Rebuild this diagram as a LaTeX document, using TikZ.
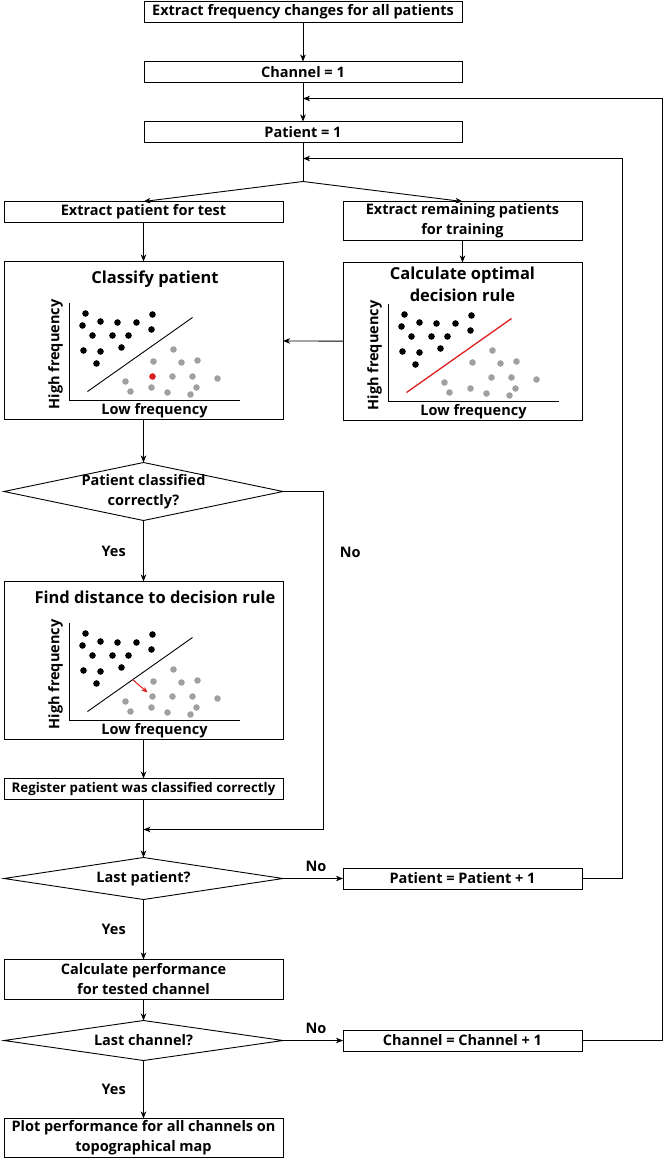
\documentclass[tikz,border=0pt]{standalone}
\usepackage{fontspec}
\setmainfont{Open Sans}
\usetikzlibrary{positioning,shapes.geometric,arrows.meta}

\definecolor{dotgray}{RGB}{160,160,160}
\definecolor{rulered}{RGB}{220,30,30}

\begin{document}
\begin{tikzpicture}[x=1pt,y=1pt,font=\bfseries\fontsize{14.5}{20}\selectfont,
  box/.style={draw,line width=0.9pt,align=center,inner sep=0pt,outer sep=0pt,minimum height=21pt},
  topbox/.style={box,minimum width=318pt},
  mainbox/.style={box,minimum width=279pt},
  sidebox/.style={box,minimum width=239pt},
  plottitle/.style={font=\bfseries\fontsize{16.5}{22}\selectfont},
  decision/.style={diamond,draw,line width=0.9pt,align=center,aspect=4,inner sep=-6pt,outer sep=0pt,minimum width=279pt},
  arr/.style={-{Stealth[length=7pt,width=5.5pt,inset=2pt]},line width=0.9pt},
  freqplot/.pic={
    \draw[line width=0.9pt] (0,98) -- (0,0) -- (170,0);
    \node[rotate=90] at (-14,46) {High frequency};
    \node at (85,-10) {Low frequency};
    \foreach \px/\py in {16/87,13/75,31/79,48/78,67/78,83/86,82/71,23/65,43/65,59/65,14/50,31/49,52/53,27/37}
      \fill (\px,\py) circle[radius=3.3pt];
    \foreach \px/\py in {104/51,84/39,112/38,128/40,56/19,103/24,123/24,148/22,61/9,82/13,98/8,121/6,127/13}
      \fill[dotgray] (\px,\py) circle[radius=3.3pt];
  }]
\useasboundingbox (0,0) rectangle (664,-1161);
\node[topbox] (extract) at (303,-12) {Extract frequency changes for all patients};
\node[topbox,below=39pt of extract] (chan1) {Channel = 1};
\node[topbox,below=39pt of chan1] (pat1) {Patient = 1};
\coordinate[below=16pt of chan1] (chanin);
\coordinate[below=16pt of pat1] (patin);
\coordinate[below=39pt of pat1] (split);
\node[mainbox,below=20pt of split,xshift=-159.5pt] (test) {Extract patient for test};
\node[sidebox,below=20pt of split,xshift=159.5pt,minimum height=39pt] (train) {Extract remaining patients\\for training};
\node[mainbox,plottitle,below=39pt of test,text height=22pt,text depth=136pt] (classify) {\hspace*{23pt}Classify patient};
\node[sidebox,plottitle,below=22pt of train,text height=39pt,text depth=119pt] (optimal) {Calculate optimal\\decision rule};
\node[decision,below=43pt of classify,minimum height=58pt] (correct) {Patient classified\\correctly?};
\node[mainbox,plottitle,below=61pt of correct,text height=22pt,text depth=136pt] (distance) {\hspace*{23pt}Find distance to decision rule};
\node[mainbox,below=39pt of distance,font=\bfseries\fontsize{13.3}{20}\selectfont] (register) {Register patient was classified correctly};
\coordinate[below=30pt of register] (merge);
\node[decision,below=58pt of register,minimum height=42pt] (lastpat) {Last patient?};
\node[sidebox,right=60pt of lastpat] (patnext) {Patient = Patient + 1};
\node[mainbox,below=60pt of lastpat,minimum height=40pt] (perf) {Calculate performance\\for tested channel};
\node[decision,below=21pt of perf,minimum height=40pt] (lastchan) {Last channel?};
\node[sidebox,right=60pt of lastchan] (channext) {Channel = Channel + 1};
\node[mainbox,below=58pt of lastchan,minimum height=39pt] (topo) {Plot performance for all channels on\\topographical map};

% scatter plots
\begin{scope}[shift={(classify.center)},shift={(-74,-60)}]
  \pic {freqplot};
  \draw[line width=0.9pt] (18,9) -- (123,83);
  \fill[rulered] (83,24) circle[radius=3.3pt];
\end{scope}
\begin{scope}[shift={(optimal.center)},shift={(-74,-60)}]
  \pic {freqplot};
  \draw[rulered,line width=1.3pt] (18,9) -- (123,83);
\end{scope}
\begin{scope}[shift={(distance.center)},shift={(-74,-60)}]
  \pic {freqplot};
  \draw[line width=0.9pt] (18,9) -- (123,83);
  \fill[dotgray] (83,24) circle[radius=3.3pt];
  \draw[rulered,-{Stealth[length=6pt,width=5pt]},line width=1pt] (63,41) -- (78,28);
\end{scope}

\draw[arr] (extract) -- (chan1);
\draw[arr] (chan1) -- (pat1);
\draw[line width=0.9pt] (pat1) -- (split);
\draw[arr] (split) -- (test.north);
\draw[arr] (split) -- (train.north);
\draw[arr] (test) -- (classify);
\draw[arr] (train) -- (optimal);
\draw[arr] (optimal) -- (classify);
\draw[arr] (classify) -- (correct);
\draw[arr] (correct) -- node[left=14pt]{Yes} (distance);
\draw[arr] (correct.east) -- ++(40,0) |- node[pos=0.09,right=13pt]{No} (merge);
\draw[arr] (distance) -- (register);
\draw[arr] (register) -- (lastpat);
\draw[arr] (lastpat) -- node[above=3pt,pos=0.55]{No} (patnext);
\draw[arr] (lastpat) -- node[left=14pt]{Yes} (perf);
\draw[arr] (patnext.east) -- ++(40,0) |- (patin);
\draw[arr] (perf) -- (lastchan);
\draw[arr] (lastchan) -- node[above=3pt,pos=0.55]{No} (channext);
\draw[arr] (lastchan) -- node[left=14pt]{Yes} (topo);
\draw[arr] (channext.east) -- ++(80,0) |- (chanin);
\end{tikzpicture}
\end{document}
